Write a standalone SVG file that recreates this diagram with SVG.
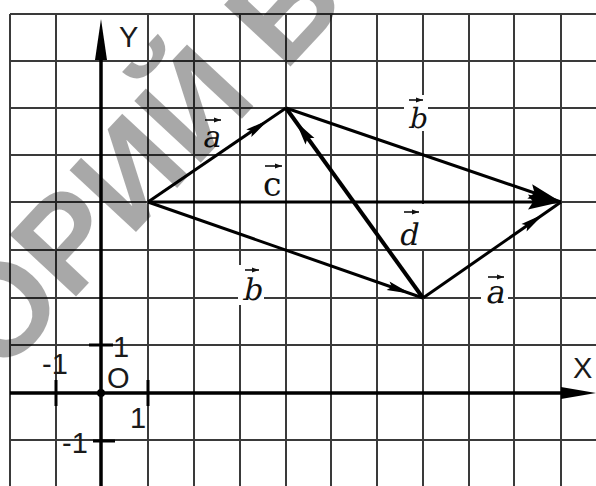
<svg xmlns="http://www.w3.org/2000/svg" width="596" height="486" viewBox="0 0 596 486">
<style>
.grid line{stroke:#3a3a3a;stroke-width:2}
.axis{stroke:#000;stroke-width:3.5}
.tick{stroke:#000;stroke-width:3}
.lbl{font-family:"Liberation Sans",Arial,sans-serif;font-size:29px;fill:#1a1a1a}
.vl{font-family:"DejaVu Serif","Liberation Serif",serif;fill:#111}
.vec{stroke:#000;stroke-width:3;fill:none}
.acc{stroke:#111;stroke-width:1.6;fill:none}
.wm{font-family:"Liberation Sans",Arial,sans-serif;font-weight:bold;font-size:132px;fill:#000;fill-opacity:0.34}
</style>
<defs>
<marker id="hA" markerUnits="userSpaceOnUse" orient="auto" overflow="visible" refX="45" refY="0" markerWidth="60" markerHeight="20"><path d="M0,-4.5 L24,0 L0,4.5 L4,0 z" fill="#000"/></marker>
<marker id="hD" markerUnits="userSpaceOnUse" orient="auto" overflow="visible" refX="41" refY="0" markerWidth="60" markerHeight="20"><path d="M0,-5.5 L24,0 L0,5.5 L4,0 z" fill="#000"/></marker>
<marker id="hB" markerUnits="userSpaceOnUse" orient="auto" overflow="visible" refX="37" refY="0" markerWidth="60" markerHeight="20"><path d="M0,-4.5 L24,0 L0,4.5 L4,0 z" fill="#000"/></marker>
<marker id="hL" markerUnits="userSpaceOnUse" orient="auto" overflow="visible" refX="33" refY="0" markerWidth="60" markerHeight="20"><path d="M0,-7.5 L33,0 L0,7.5 L5,0 z" fill="#000"/></marker>
<marker id="hs" markerUnits="userSpaceOnUse" orient="auto" overflow="visible" refX="7" refY="0" markerWidth="10" markerHeight="10"><path d="M0,-2.6 L7,0 L0,2.6 z" fill="#111"/></marker>
</defs>
<rect width="596" height="486" fill="#fff"/>
<g id="grid" class="grid">
<line x1="10" y1="14" x2="10" y2="486"/>
<line x1="56" y1="14" x2="56" y2="486"/>
<line x1="148" y1="14" x2="148" y2="486"/>
<line x1="194" y1="14" x2="194" y2="486"/>
<line x1="240" y1="14" x2="240" y2="486"/>
<line x1="286" y1="14" x2="286" y2="486"/>
<line x1="331" y1="14" x2="331" y2="486"/>
<line x1="377" y1="14" x2="377" y2="486"/>
<line x1="423" y1="14" x2="423" y2="486"/>
<line x1="469" y1="14" x2="469" y2="486"/>
<line x1="514" y1="14" x2="514" y2="486"/>
<line x1="561" y1="14" x2="561" y2="486"/>
<line x1="10" y1="14" x2="596" y2="14"/>
<line x1="10" y1="61" x2="596" y2="61"/>
<line x1="10" y1="108" x2="596" y2="108"/>
<line x1="10" y1="155" x2="596" y2="155"/>
<line x1="10" y1="202" x2="596" y2="202"/>
<line x1="10" y1="250" x2="596" y2="250"/>
<line x1="10" y1="298" x2="596" y2="298"/>
<line x1="10" y1="345" x2="596" y2="345"/>
<line x1="10" y1="440" x2="596" y2="440"/>
</g>
<g id="label-backgrounds" fill="#fff">
<rect x="404" y="95" width="24" height="36"/>
<rect x="238" y="265" width="26" height="40"/>
<rect x="481" y="270" width="27" height="36"/>
<rect x="390" y="204" width="35" height="45"/>
</g>
<g id="axes">
<line class="axis" x1="10" y1="393" x2="566" y2="393"/>
<path d="M561,387 L596,393 L561,399 z" fill="#000"/>
<line class="axis" x1="101" y1="486" x2="101" y2="55"/>
<path d="M95,60 L101,19 L107,60 z" fill="#000"/>
<line class="tick" x1="56" y1="380" x2="56" y2="406"/>
<line class="tick" x1="148" y1="380" x2="148" y2="406"/>
<line class="tick" x1="89" y1="345" x2="113" y2="345"/>
<line class="tick" x1="93" y1="441" x2="115" y2="441"/>
<circle cx="101" cy="393" r="4" fill="#000"/>
<text class="lbl" x="119" y="47">Y</text>
<text class="lbl" x="573" y="378">X</text>
<text class="lbl" x="107" y="388">O</text>
<text class="lbl" x="113" y="357">1</text>
<text class="lbl" x="42" y="374">-1</text>
<text class="lbl" x="130" y="428">1</text>
<text class="lbl" x="62" y="453">-1</text>
</g>
<g id="connectors">
<line id="vec-a1" class="vec" x1="148" y1="202" x2="286" y2="108" marker-end="url(#hA)"/>
<line id="vec-b1" class="vec" x1="286" y1="108" x2="561" y2="202" marker-end="url(#hL)"/>
<line id="vec-c" class="vec" x1="148" y1="202" x2="561" y2="202" marker-end="url(#hL)"/>
<line id="vec-b2" class="vec" x1="148" y1="202" x2="423" y2="298" marker-end="url(#hB)"/>
<line id="vec-a2" class="vec" x1="423" y1="298" x2="561" y2="202" marker-end="url(#hA)"/>
<line id="vec-d" class="vec" style="stroke-width:4" x1="423" y1="298" x2="286" y2="108" marker-end="url(#hD)"/>
</g>
<g id="label-a1">
<text class="vl" font-size="30" transform="translate(202,147) skewX(-12)">a</text>
<line class="acc" x1="205" y1="120" x2="221" y2="120" marker-end="url(#hs)"/>
</g>
<g id="label-c">
<text class="vl" font-size="33" x="263" y="196">c</text>
<line class="acc" x1="265" y1="166" x2="282" y2="166" marker-end="url(#hs)"/>
</g>
<g id="label-b1">
<text class="vl" font-size="28" transform="translate(408,128) skewX(-12)">b</text>
<line class="acc" x1="409" y1="100" x2="423" y2="100" marker-end="url(#hs)"/>
</g>
<g id="label-d">
<text class="vl" font-size="30" transform="translate(398,245) skewX(-12)">d</text>
<line class="acc" x1="404" y1="212" x2="419" y2="212" marker-end="url(#hs)"/>
</g>
<g id="label-b2">
<text class="vl" font-size="30" transform="translate(242,300) skewX(-12)">b</text>
<line class="acc" x1="245" y1="270" x2="259" y2="270" marker-end="url(#hs)"/>
</g>
<g id="label-a2">
<text class="vl" font-size="32" transform="translate(485,303) skewX(-12)">a</text>
<line class="acc" x1="488" y1="277" x2="504" y2="277" marker-end="url(#hs)"/>
</g>
<g id="watermark">
<text class="wm" transform="translate(0,378) rotate(-47)">ОРИЙ Б</text>
</g>
</svg>
